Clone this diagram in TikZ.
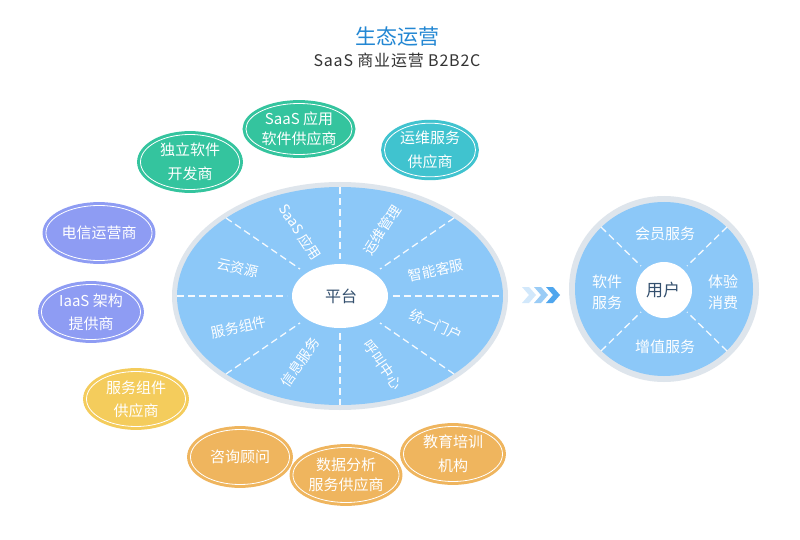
\documentclass[tikz,border=0pt]{standalone}
\usepackage{fontspec}
\setmainfont{Noto Sans CJK SC}
\usetikzlibrary{shapes.geometric}
\definecolor{titleblue}{HTML}{2387D3}
\definecolor{subgray}{HTML}{333333}
\definecolor{ringgray}{HTML}{DEE5EC}
\definecolor{skyblue}{HTML}{8CC8F8}
\definecolor{navy}{HTML}{34506E}
\definecolor{sgreen}{HTML}{34C49E}
\definecolor{scyan}{HTML}{40C3CF}
\definecolor{sviolet}{HTML}{8E9CF3}
\definecolor{syellow}{HTML}{F4CC5C}
\definecolor{sorange}{HTML}{EFB55E}
\definecolor{chevA}{HTML}{D2E8FB}
\definecolor{chevB}{HTML}{9ACCF6}
\definecolor{chevC}{HTML}{4FA6EE}
\begin{document}
\begin{tikzpicture}[x=1pt,y=-1pt,
  sat/.style={ellipse, inner sep=0pt, align=center, text=white,
    font=\fontsize{15}{24}\selectfont, fill=#1, draw=#1, line width=3pt,
    double=white, double distance=0.8pt, minimum width=99pt, minimum height=55pt},
  seclabel/.style={text=white, font=\fontsize{14}{18}\selectfont, inner sep=0pt},
  usrlabel/.style={text=white, font=\fontsize{15}{21}\selectfont, inner sep=0pt, align=center},
  sep/.style={white, dashed, dash pattern=on 7pt off 4pt, line width=1.3pt, opacity=0.9},
  hub/.style={text=navy, font=\fontsize{16}{20}\selectfont, inner sep=0pt}
]
\useasboundingbox (0,0) rectangle (800,540);
\fill[white] (0,0) rectangle (800,540);

% titles
\node[text=titleblue, font=\fontsize{21}{24}\selectfont] (title) at (397,37) {生态运营};
\node[text=subgray, font=\fontsize{16}{20}\selectfont\addfontfeature{LetterSpace=5}] (subtitle) at (397,60) {SaaS 商业运营 B2B2C};

% main platform ellipse
\coordinate (pc) at (340,296);
\fill[ringgray] (pc) ellipse [x radius=168, y radius=114];
\fill[skyblue] (pc) ellipse [x radius=163, y radius=109];
\begin{scope}[shift={(340,296)}]
  \draw[sep] (-163,0) -- (-53,0);
  \draw[sep] (53,0) -- (163,0);
  \draw[sep] (0,-109) -- (0,-37);
  \draw[sep] (0,37) -- (0,109);
  \draw[sep] (-114,-78) -- (-40,-27);
  \draw[sep] (114,-78) -- (40,-27);
  \draw[sep] (-114,78) -- (-40,27);
  \draw[sep] (114,78) -- (40,27);
\end{scope}
\fill[white] (pc) ellipse [x radius=48, y radius=32];
\node[hub] (platform) at (341,296) {平台};

\node[seclabel, rotate=-57] (saasapp) at (300,232) {SaaS 应用};
\node[seclabel, rotate=57] (ops) at (382,230) {运维管理};
\node[seclabel, rotate=12] (cs) at (436,270) {智能客服};
\node[seclabel, rotate=-24] (portal) at (436,325) {统一门户};
\node[seclabel, rotate=-56] (call) at (383,365) {呼叫中心};
\node[seclabel, rotate=55] (info) at (300,362) {信息服务};
\node[seclabel, rotate=13] (comp) at (239,327) {服务组件};
\node[seclabel, rotate=-13] (cloud) at (238,268) {云资源};

% chevrons
\fill[chevA] (522,287) -- (529,287) -- (536,295) -- (529,303) -- (522,303) -- (529,295) -- cycle;
\fill[chevB] (534,287) -- (541,287) -- (548,295) -- (541,303) -- (534,303) -- (541,295) -- cycle;
\fill[chevC] (546,287) -- (553,287) -- (560,295) -- (553,303) -- (546,303) -- (553,295) -- cycle;

% user circle
\coordinate (uc) at (664,289);
\fill[ringgray] (uc) ellipse [x radius=95, y radius=93];
\fill[skyblue] (uc) ellipse [x radius=89, y radius=87];
\begin{scope}[shift={(664,289)}]
  \draw[sep] (-63,-62) -- (-23,-23);
  \draw[sep] (63,-62) -- (23,-23);
  \draw[sep] (-63,62) -- (-23,23);
  \draw[sep] (63,62) -- (23,23);
\end{scope}
\fill[white] (664,290) circle [radius=28];
\node[hub, font=\fontsize{17}{20}\selectfont] (user) at (663,290) {用户};
\node[usrlabel] (member) at (665,234) {会员服务};
\node[usrlabel] (value) at (665,347) {增值服务};
\node[usrlabel] (soft) at (607,292) {软件\\服务};
\node[usrlabel] (exp) at (723,292) {体验\\消费};

% satellites
\node[sat=sgreen] (isv) at (190,162) {独立软件\\开发商};
\node[sat=sgreen, minimum width=95pt, minimum height=51pt, font=\fontsize{15}{20}\selectfont] (saasv) at (299,129) {SaaS 应用\\软件供应商};
\node[sat=scyan, minimum width=91pt, minimum height=51pt] (opsv) at (430,150) {运维服务\\供应商};
\node[sat=sviolet] (telecom) at (99,233) {电信运营商};
\node[sat=sviolet, font=\fontsize{15}{23}\selectfont] (iaas) at (91,312) {IaaS 架构\\提供商};
\node[sat=syellow, font=\fontsize{15}{23}\selectfont] (compv) at (136,399) {服务组件\\供应商};
\node[sat=sorange] (consult) at (240,457) {咨询顾问};
\node[sat=sorange, font=\fontsize{15}{20}\selectfont] (data) at (346,475) {数据分析\\服务供应商};
\node[sat=sorange] (edu) at (453,454) {教育培训\\机构};
\end{tikzpicture}
\end{document}
